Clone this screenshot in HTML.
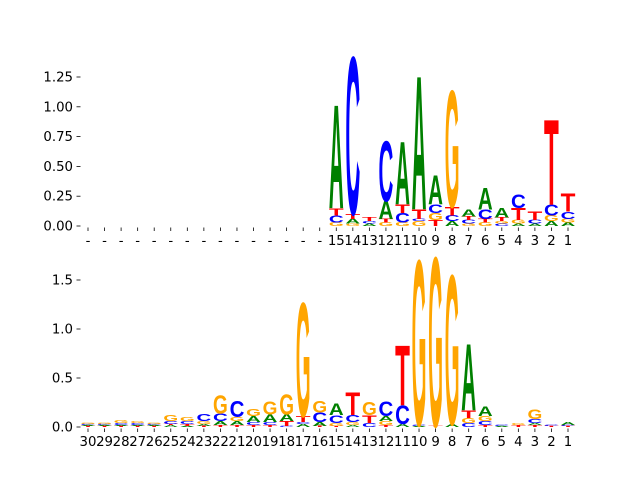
<!DOCTYPE html>
<html><head><meta charset="utf-8"><style>
html,body{margin:0;padding:0;background:#fff;}
svg{display:block;font-family:"DejaVu Sans","Liberation Sans",sans-serif;}
</style></head><body>
<svg id="chart" width="640" height="480" viewBox="0 0 640 480" xmlns="http://www.w3.org/2000/svg"></svg>
<script>
// Letter order stacked bottom-to-top within each column
const topLabels = ["-","-","-","-","-","-","-","-","-","-","-","-","-","-","-","15","14","13","12","11","10","9","8","7","6","5","4","3","2","1"];
const topStacks = [
 [],[],[],[],[],[],[],[],[],[],[],[],[],[],[],
 [["G",.03],["C",.06],["T",.06],["A",.86]],
 [["G",.02],["A",.04],["T",.04],["C",1.31]],
 [["A",.02],["C",.02],["T",.03]],
 [["G",.03],["T",.03],["A",.15],["C",.5]],
 [["G",.03],["C",.08],["T",.07],["A",.52]],
 [["G",.04],["C",.02],["T",.08],["A",1.11]],
 [["T",.05],["G",.06],["C",.07],["A",.24]],
 [["A",.04],["C",.05],["T",.07],["G",.97]],
 [["G",.02],["C",.03],["T",.03],["A",.06]],
 [["G",.03],["T",.03],["C",.08],["A",.18]],
 [["C",.02],["G",.02],["T",.03],["A",.08]],
 [["A",.02],["G",.03],["T",.1],["C",.11]],
 [["A",.02],["C",.03],["T",.07]],
 [["A",.04],["G",.05],["C",.09],["T",.71]],
 [["A",.03],["G",.03],["C",.06],["T",.15]]
];
const topTicks = [0,0.25,0.5,0.75,1.0,1.25];
const topTickLabels = ["0.00","0.25","0.50","0.75","1.00","1.25"];

const botLabels = ["30","29","28","27","26","25","24","23","22","21","20","19","18","17","16","15","14","13","12","11","10","9","8","7","6","5","4","3","2","1"];
const botStacks = [
 [["T",.01],["A",.01],["C",.01],["G",.01]],
 [["T",.01],["A",.01],["C",.01],["G",.015]],
 [["T",.01],["A",.01],["C",.02],["G",.03]],
 [["T",.01],["A",.01],["C",.02],["G",.02]],
 [["T",.01],["A",.01],["C",.01],["G",.01]],
 [["A",.02],["T",.01],["C",.03],["G",.06]],
 [["A",.01],["T",.02],["C",.03],["G",.04]],
 [["T",.01],["A",.02],["G",.03],["C",.07]],
 [["T",.02],["A",.04],["C",.08],["G",.18]],
 [["T",.02],["A",.04],["G",.04],["C",.16]],
 [["T",.02],["C",.03],["A",.06],["G",.07]],
 [["T",.02],["C",.03],["A",.08],["G",.13]],
 [["C",.01],["T",.05],["A",.07],["G",.2]],
 [["A",.03],["C",.02],["T",.06],["G",1.15]],
 [["T",.01],["A",.04],["C",.1],["G",.12]],
 [["T",.01],["G",.03],["C",.08],["A",.12]],
 [["A",.02],["G",.03],["C",.07],["T",.23]],
 [["C",.04],["T",.08],["G",.13]],
 [["T",.02],["G",.04],["A",.05],["C",.15]],
 [["A",.03],["C",.19],["T",.61]],
 [["A",.01],["C",.01],["G",1.67]],
 [["T",.01],["G",1.71]],
 [["A",.03],["G",1.51]],
 [["C",.04],["G",.05],["T",.08],["A",.67]],
 [["T",.02],["C",.04],["G",.05],["A",.1]],
 [["A",.01],["C",.01]],
 [["T",.02],["G",.02]],
 [["T",.02],["A",.02],["C",.04],["G",.1]],
 [["T",.01],["C",.01]],
 [["T",.01],["C",.01],["A",.03]]
];
const botTicks = [0,0.5,1.0,1.5];
const botTickLabels = ["0.0","0.5","1.0","1.5"];

const colors = {A:"#008000",C:"#0000ff",G:"#ffa500",T:"#ff0000"};
const adv = {A:72.2,C:72.2,G:77.8,T:61.1};
const capH = 69;
const svg = document.getElementById('chart');
const NS = "http://www.w3.org/2000/svg";
function xPos(i){ return 88 + i*(480/29); }
const colW = 14.8;

function panel(name, stacks, labels, ticks, tickLabels, y0, pxPerUnit){
  const g = document.createElementNS(NS,'g');
  
  
  svg.appendChild(g);
  const yS = v => y0 - v*pxPerUnit;
  ticks.forEach((t,k)=>{
    const ln = document.createElementNS(NS,'line');
    
    
    ln.setAttribute('x1',76.5); ln.setAttribute('x2',80.5);
    ln.setAttribute('y1',yS(t)); ln.setAttribute('y2',yS(t));
    ln.setAttribute('stroke','#000'); ln.setAttribute('stroke-width','0.8');
    g.appendChild(ln);
    const tx = document.createElementNS(NS,'text');
    
    
    tx.setAttribute('x',73); tx.setAttribute('y',yS(t)+4.5);
    tx.setAttribute('text-anchor','end'); tx.setAttribute('font-size','13.3');
    tx.textContent = tickLabels[k];
    g.appendChild(tx);
  });
  stacks.forEach((st,i)=>{
    const cx = xPos(i);
    const ln = document.createElementNS(NS,'line');
    
    
    ln.setAttribute('x1',cx); ln.setAttribute('x2',cx);
    ln.setAttribute('y1',y0+1.5); ln.setAttribute('y2',y0+5);
    ln.setAttribute('stroke','#000'); ln.setAttribute('stroke-width','0.8');
    g.appendChild(ln);
    const tx = document.createElementNS(NS,'text');
    
    
    tx.setAttribute('x',cx); tx.setAttribute('y',y0+19);
    tx.setAttribute('text-anchor','middle'); tx.setAttribute('font-size','13.3');
    tx.textContent = labels[i];
    g.appendChild(tx);
    let acc = 0;
    st.forEach(([ch,h])=>{
      const yb = yS(acc);
      const hp = h*pxPerUnit;
      acc += h;
      if (hp <= 0) return;
      const t = document.createElementNS(NS,'text');
      
      
      t.setAttribute('font-size','100');
      t.setAttribute('font-weight','bold');
      t.setAttribute('font-family','Liberation Sans, sans-serif');
      t.setAttribute('fill', colors[ch]);
      t.setAttribute('x', 0); t.setAttribute('y', 0);
      t.setAttribute('transform', `translate(${cx-colW/2},${yb}) scale(${colW/adv[ch]},${hp/capH})`);
      t.textContent = ch;
      g.appendChild(t);
    });
  });
}
panel('top-logo-panel', topStacks, topLabels, topTicks, topTickLabels, 226, 119.2);
panel('bottom-logo-panel', botStacks, botLabels, botTicks, botTickLabels, 427, 98);
</script>
</body></html>
